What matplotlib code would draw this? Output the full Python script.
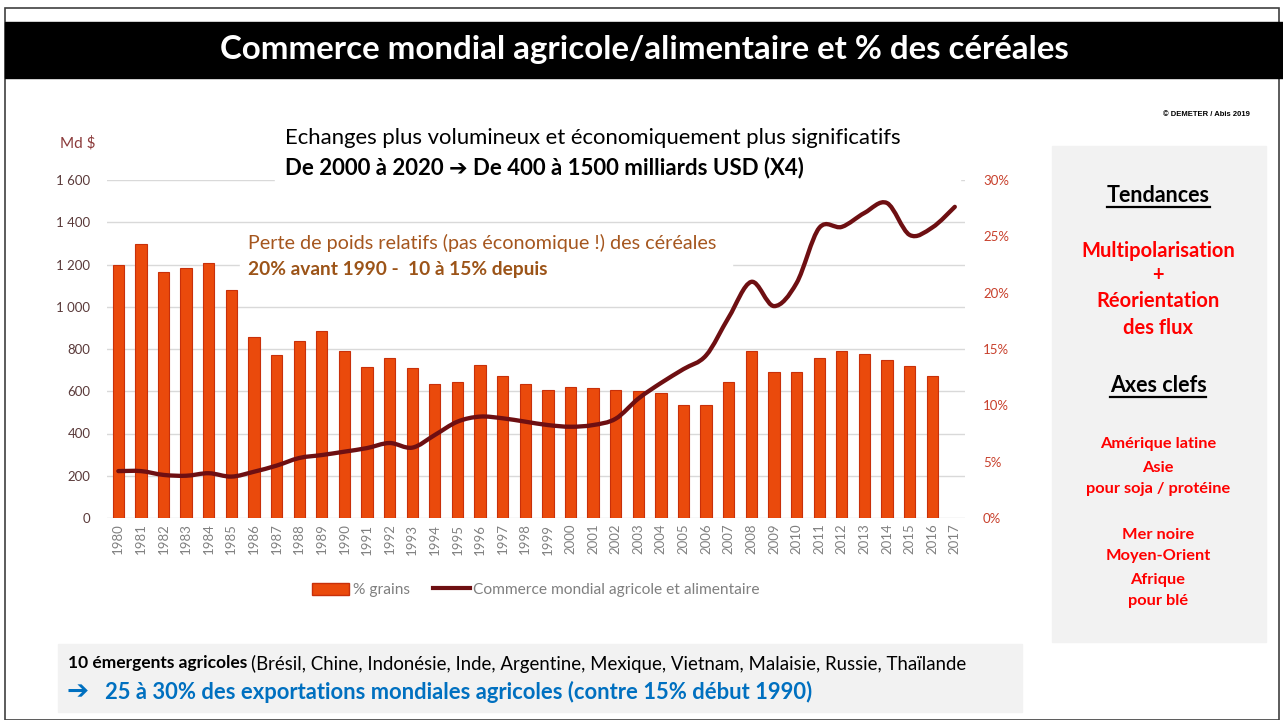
import matplotlib.pyplot as plt
import numpy as np
from matplotlib.path import Path
from matplotlib.patches import PathPatch, Rectangle, Patch
from matplotlib.lines import Line2D

plt.rcParams['font.family'] = ['Lato', 'DejaVu Sans']

years = list(range(1980, 2018))
# % grains (right axis), no bar for 2017
grains_pct = [22.5, 24.3, 21.8, 22.2, 22.6, 20.2, 16.1, 14.5, 15.7, 16.6,
              14.8, 13.4, 14.2, 13.3, 11.9, 12.1, 13.6, 12.6, 11.9, 11.4,
              11.6, 11.5, 11.4, 11.3, 11.1, 10.0, 10.0, 12.1, 14.8, 13.0,
              13.0, 14.2, 14.8, 14.6, 14.0, 13.5, 12.6, np.nan]
# world agri/food trade, Md $ (left axis)
trade_bn = [222, 222, 204, 200, 212, 196, 219, 248, 284, 298,
            314, 331, 355, 333, 393, 456, 480, 472, 456, 440,
            432, 440, 470, 565, 639, 705, 770, 950, 1118, 1003,
            1112, 1373, 1378, 1444, 1491, 1340, 1375, 1473]
left_ticks = [0, 200, 400, 600, 800, 1000, 1200, 1400, 1600]
left_labels = ['0', '200', '400', '600', '800', '1 000', '1 200', '1 400', '1 600']
right_ticks = [0, 5, 10, 15, 20, 25, 30]
right_labels = ['0%', '5%', '10%', '15%', '20%', '25%', '30%']

tendances = ['Multipolarisation', '+', 'Réorientation', 'des flux']
axes_clefs = [('Amérique latine', 444), ('Asie', 468), ('pour soja / protéine', 489),
              ('Mer noire', 535), ('Moyen-Orient', 556), ('Afrique', 580), ('pour blé', 601)]

W, H = 1283, 720
fig = plt.figure(figsize=(W / 100, H / 100), dpi=100)


def fx(px):
    return px / W


def fy(py):
    return 1 - py / H


# slide frame + title bar
fig.patches.append(Rectangle((fx(5), fy(720)), fx(1279) - fx(5), fy(8) - fy(720),
                             transform=fig.transFigure, fill=False, edgecolor='#404040', lw=1.2))
fig.patches.append(Rectangle((fx(5), fy(78)), 1 - fx(5), (78 - 22) / H,
                             transform=fig.transFigure, color='black'))
fig.text(fx(644), fy(50), 'Commerce mondial agricole/alimentaire et % des céréales',
         color='white', fontsize=23.8, fontweight='bold', ha='center', va='center')

# chart
ax = fig.add_axes([fx(107), fy(518), fx(965) - fx(107), (518 - 180) / H])
ax.set_xlim(1979.5, 2017.45)
ax.set_ylim(0, 1600)
ax.set_yticks(left_ticks)
ax.set_yticklabels(left_labels, color='#5a3a3a', fontsize=9.5)
ax.set_xticks(years)
ax.set_xticklabels([str(y) for y in years], rotation=90, color='#808080', fontsize=9.5)
ax.tick_params(length=0)
ax.tick_params(axis='y', pad=12)
ax.tick_params(axis='x', pad=4)
ax.grid(axis='y', color='#d9d9d9', lw=1)
for s in ax.spines.values():
    s.set_visible(False)

ax2 = ax.twinx()
ax2.set_ylim(0, 30)
ax2.set_yticks(right_ticks)
ax2.set_yticklabels(right_labels, color='#c8402c', fontsize=9.5)
ax2.tick_params(length=0, pad=13)
for s in ax2.spines.values():
    s.set_visible(False)
ax2.bar(years, grains_pct, width=0.5, color='#ea4a0c', edgecolor='#c8300a', lw=0.8, zorder=2)

# smoothed line (Bezier through data points)
pts = np.column_stack([years, trade_bn]).astype(float)
verts = [pts[0]]
codes = [Path.MOVETO]
n = len(pts)
for i in range(n - 1):
    p0 = pts[max(i - 1, 0)]
    p1 = pts[i]
    p2 = pts[i + 1]
    p3 = pts[min(i + 2, n - 1)]
    verts += [p1 + (p2 - p0) / 6, p2 - (p3 - p1) / 6, p2]
    codes += [Path.CURVE4] * 3
ax2.add_patch(PathPatch(Path(verts, codes), transform=ax.transData, fill=False,
                        edgecolor='#6e0f12', lw=3.1, capstyle='round', joinstyle='round', zorder=3))

fig.text(fx(60), fy(143), 'Md $', color='#8b3a3a', fontsize=11, va='center')

# annotation boxes
fig.patches.append(Rectangle((fx(275), fy(182)), fx(960) - fx(275), (182 - 125) / H,
                             transform=fig.transFigure, color='white', zorder=5))
fig.text(fx(285), fy(138), 'Echanges plus volumineux et économiquement plus significatifs',
         fontsize=15.9, color='black', va='center', zorder=6)
fig.text(fx(285), fy(168), 'De 2000 à 2020 ➔ De 400 à 1500 milliards USD (X4)',
         fontsize=16, fontweight='bold', color='black', va='center', zorder=6)

fig.patches.append(Rectangle((fx(240), fy(282)), fx(732) - fx(240), (282 - 228) / H,
                             transform=fig.transFigure, color='white', zorder=5))
fig.text(fx(248), fy(243), 'Perte de poids relatifs (pas économique !) des céréales',
         fontsize=14.2, color='#a5561e', va='center', zorder=6)
fig.text(fx(248), fy(270), '20% avant 1990 -  10 à 15% depuis',
         fontsize=13.8, fontweight='bold', color='#9c5418', va='center', zorder=6)

# legend
handles = [Patch(facecolor='#ea4a0c', edgecolor='#c8300a'),
           Line2D([0], [0], color='#6e0f12', lw=3)]
fig.legend(handles, ['% grains', 'Commerce mondial agricole et alimentaire'],
           loc='center', bbox_to_anchor=(fx(536), fy(590)), ncol=2, frameon=False,
           fontsize=11.2, labelcolor='#808080', handlelength=2.4, handleheight=0.8,
           handletextpad=0.2, columnspacing=1.5)

fig.text(fx(1250), fy(115), '© DEMETER / Abis 2019', fontsize=5.5, fontweight='bold',
         ha='right', va='center', family=['Liberation Sans', 'DejaVu Sans'])

# right panel
fig.patches.append(Rectangle((fx(1052), fy(642)), fx(1266) - fx(1052), (642 - 146) / H,
                             transform=fig.transFigure, color='#f2f2f2'))
cx = fx(1158)
t1 = fig.text(cx, fy(195), 'Tendances', fontsize=15.5, fontweight='bold', ha='center', va='center')
t2 = fig.text(cx, fy(385), 'Axes clefs', fontsize=15.5, fontweight='bold', ha='center', va='center')
for txt, py in zip(tendances, [251, 275, 301, 328]):
    fig.text(cx, fy(py), txt, fontsize=14.5, fontweight='bold', color='#ff0000',
             ha='center', va='center')
for txt, py in axes_clefs:
    fig.text(cx, fy(py), txt, fontsize=11.8, fontweight='bold', color='#ff0000',
             ha='center', va='center')

# bottom box
fig.patches.append(Rectangle((fx(58), fy(712)), fx(1022) - fx(58), (712 - 644) / H,
                             transform=fig.transFigure, color='#f2f2f2'))
b1 = fig.text(fx(68), fy(663), '10 émergents agricoles', fontsize=12.5, fontweight='bold',
              va='center')
fig.text(fx(67), fy(692), '➔', fontsize=19, fontweight='bold', color='#0070c0', va='center',
         family=['DejaVu Sans'])
fig.text(fx(105), fy(692), '25 à 30% des exportations mondiales agricoles (contre 15% début 1990)',
         fontsize=15.8, fontweight='bold', color='#0070c0', va='center')

fig.canvas.draw()
r = fig.canvas.get_renderer()
bb = b1.get_window_extent(r)
fig.text(bb.x1 / W + fx(4), fy(664),
         '(Brésil, Chine, Indonésie, Inde, Argentine, Mexique, Vietnam, Malaisie, Russie, Thaïlande',
         fontsize=13.4, va='center')
for t in (t1, t2):
    bb = t.get_window_extent(r)
    fig.add_artist(Line2D([bb.x0 / W, bb.x1 / W], [bb.y0 / H - 0.002] * 2, color='black', lw=1.6))

fig.savefig('out.png', dpi=100)
